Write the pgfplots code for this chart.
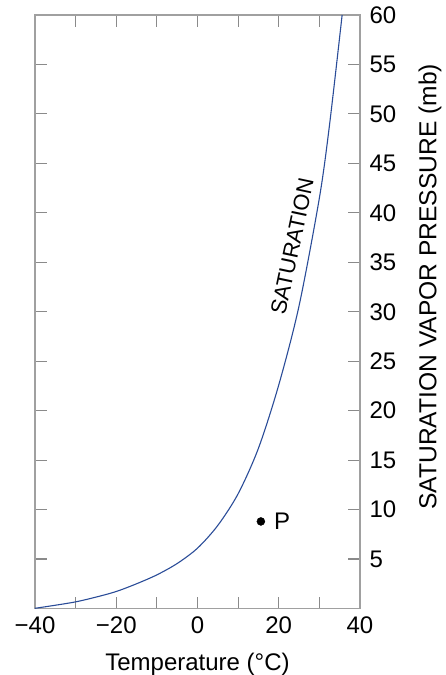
\documentclass[border=0pt]{standalone}
\usepackage{pgfplots}
\pgfplotsset{compat=1.18}
\usepackage{fontspec}
\setmainfont{Liberation Sans}
\definecolor{axgray}{HTML}{A0A0A0}
\definecolor{tickgray}{HTML}{8A8A8A}
\definecolor{curveblue}{HTML}{2A4C98}
\begin{document}
\begin{tikzpicture}[font=\fontsize{24}{28}\selectfont]
\begin{axis}[
  at={(0,0)}, anchor=south west,
  scale only axis,
  width=325pt, height=593.5pt,
  xmin=-40, xmax=40, ymin=0, ymax=60,
  axis line style={axgray, line width=1.4pt},
  xtick={-40,-30,...,40},
  xticklabels={−40,,−20,,0,,20,,40},
  ytick={5,10,...,60},
  yticklabel pos=right,
  tick align=inside,
  major tick length=12pt,
  every tick/.style={tickgray, line width=1.1pt},
  /pgf/number format/assume math mode=true,
  xticklabel style={yshift=-5pt},
  yticklabel style={xshift=6pt},
  xlabel={Temperature (°C)},
  xlabel style={yshift=-12pt},
  clip=false,
]
\addplot[curveblue, line width=1.1pt, smooth] coordinates {
(-40,0.02) (-35,0.33) (-30,0.67) (-25,1.15) (-20,1.72) (-15,2.5) (-10,3.4)
(-5,4.55) (0,6.1) (5,8.4) (10,11.6) (15,16.2) (20,22.6) (25,30.6)
(30,41.5) (32.5,48.9) (35.6,60)
};
\addplot[only marks, mark=*, mark size=4pt, black] coordinates {(15.6,8.8)};
\node[anchor=west] at (axis cs:18.0,8.8) {P};
\node[rotate=78, font=\fontsize{22}{26}\selectfont] at (axis cs:23.3,36.6) {SATURATION};
\node[rotate=90, font=\fontsize{24.6}{28}\selectfont] at ([xshift=70pt]rel axis cs:1,0.542) {SATURATION VAPOR PRESSURE (mb)};
\end{axis}
\pgfresetboundingbox
\path[use as bounding box] (-35pt,-66.5pt) rectangle (410pt,608.5pt);
\end{tikzpicture}
\end{document}
